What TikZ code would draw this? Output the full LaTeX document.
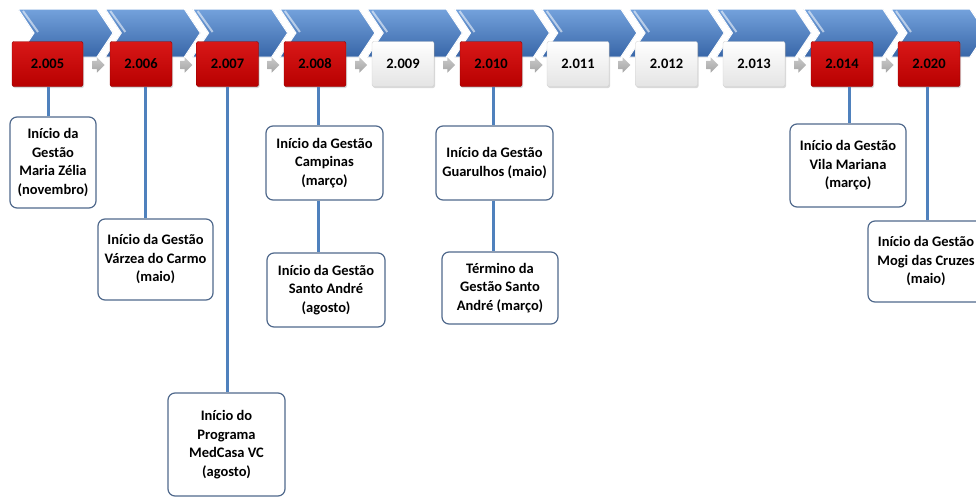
\documentclass[tikz,border=0pt]{standalone}
\usepackage{fontspec}
\setmainfont{Carlito}
\usetikzlibrary{shapes.arrows,shadows,calc}
\definecolor{ChevronTop}{HTML}{74A2DC}
\definecolor{ChevronMid}{HTML}{4A7EC2}
\definecolor{ChevronBottom}{HTML}{3866A8}
\definecolor{YearRed}{HTML}{B80000}
\definecolor{YearRedTop}{HTML}{D81818}
\definecolor{YearRedEdge}{HTML}{8C0000}
\definecolor{YearGrey}{HTML}{E4E4E4}
\definecolor{YearGreyEdge}{HTML}{D0D0D0}
\definecolor{StepArrow}{HTML}{A5A5A5}
\definecolor{StemBlue}{HTML}{4F81BD}
\definecolor{NoteEdge}{HTML}{50698C}

\begin{document}
\begin{tikzpicture}[x=1pt,y=-1pt,
    chevron/.style={top color=ChevronTop,middle color=ChevronMid,bottom color=ChevronBottom,draw=white,line width=1pt},
    gloss/.style={white,opacity=.55,line width=2pt},
    yearbox/.style={minimum height=45pt,inner sep=0pt,rounded corners=2pt,text=black,
      font=\fontsize{14.5}{17}\selectfont\bfseries,
      drop shadow={shadow xshift=1pt,shadow yshift=-1.5pt,opacity=.3}},
    redyear/.style={yearbox,top color=YearRedTop,bottom color=YearRed,draw=YearRedEdge},
    greyyear/.style={yearbox,top color=white,bottom color=YearGrey,draw=YearGreyEdge},
    steparrow/.style={single arrow,single arrow head extend=3.5pt,minimum height=12pt,
      inner xsep=0pt,inner ysep=4pt,top color=StepArrow!60,bottom color=StepArrow,draw=none},
    stem/.style={StemBlue,line width=3pt},
    note/.style={draw=NoteEdge,line width=1.2pt,rounded corners=7pt,fill=white,align=center,
      inner sep=0pt,text=black,font=\fontsize{14.5}{18.5}\selectfont\bfseries}]
  \useasboundingbox (0,0) rectangle (976,498);

  % chevrons in the back
  \foreach \k in {0,...,10} {
    \pgfmathsetmacro{\cx}{18+87.3*\k}
    \filldraw[chevron] (\cx,9) -- ++(79,0) -- ++(16,24) -- ++(-16,24) -- ++(-79,0) -- ++(16,-24) -- cycle;
    \draw[gloss] (\cx+5,11) -- (\cx+20,32);
  }

  % years
  \foreach \yr/\lab/\xc/\bw/\kind in {2005/2.005/47.5/71pt/redyear,2006/2.006/141/62pt/redyear,
      2007/2.007/227.5/62pt/redyear,2008/2.008/315/62pt/redyear,2009/2.009/403/62pt/greyyear,
      2010/2.010/491/62pt/redyear,2011/2.011/578/62pt/greyyear,2012/2.012/666.5/62pt/greyyear,
      2013/2.013/754/62pt/greyyear,2014/2.014/842/62pt/redyear,2020/2.020/929/62pt/redyear} {
    \node[\kind,minimum width=\bw] (y\yr) at (\xc,64) {\lab};
  }

  % small arrows between years
  \foreach \a/\b in {2005/2006,2006/2007,2007/2008,2008/2009,2009/2010,2010/2011,
      2011/2012,2012/2013,2013/2014,2014/2020} {
    \node[steparrow] (s\a) at ($(y\a.east)!.5!(y\b.west)+(0,1)$) {};
  }

  % notes
  \node[note,minimum width=86pt,minimum height=91pt] (n2005) at (53,162.5) {Início da\\Gestão\\Maria Zélia\\(novembro)};
  \node[note,minimum width=115pt,minimum height=81pt] (n2006) at (155.5,259.5) {Início da Gestão\\Várzea do Carmo\\(maio)};
  \node[note,minimum width=117pt,minimum height=103pt] (n2007) at (226.5,444.5) {Início do\\Programa\\MedCasa VC\\(agosto)};
  \node[note,minimum width=117pt,minimum height=74pt] (n2008a) at (324.5,163) {Início da Gestão\\Campinas\\(março)};
  \node[note,minimum width=118pt,minimum height=74pt] (n2008b) at (326,290) {Início da Gestão\\Santo André\\(agosto)};
  \node[note,minimum width=117pt,minimum height=74pt] (n2010a) at (494.5,163) {Início da Gestão\\Guarulhos (maio)};
  \node[note,minimum width=116pt,minimum height=72pt] (n2010b) at (500,288) {Término da\\Gestão Santo\\André (março)};
  \node[note,minimum width=116pt,minimum height=83pt] (n2014) at (848,165.5) {Início da Gestão\\Vila Mariana\\(março)};
  \node[note,minimum width=116pt,minimum height=81pt] (n2020) at (926,261.5) {Início da Gestão\\Mogi das Cruzes\\(maio)};

  % stems
  \draw[stem] ($(y2005.south)+(0.5,0)$) -- ($(y2005.south |- n2005.north)+(0.5,0)$);
  \draw[stem] ($(y2006.south)+(4,0)$) -- ($(y2006.south |- n2006.north)+(4,0)$);
  \draw[stem] ($(y2007.south)+(-0.5,0)$) -- ($(y2007.south |- n2007.north)+(-0.5,0)$);
  \draw[stem] ($(y2008.south)+(3,0)$) -- ($(y2008.south |- n2008a.north)+(3,0)$);
  \draw[stem] ($(y2008.south |- n2008a.south)+(3,0)$) -- ($(y2008.south |- n2008b.north)+(3,0)$);
  \draw[stem] ($(y2010.south)+(2,0)$) -- ($(y2010.south |- n2010a.north)+(2,0)$);
  \draw[stem] ($(y2010.south |- n2010a.south)+(2,0)$) -- ($(y2010.south |- n2010b.north)+(2,0)$);
  \draw[stem] ($(y2014.south)+(7,0)$) -- ($(y2014.south |- n2014.north)+(7,0)$);
  \draw[stem] ($(y2020.south)+(-2,0)$) -- ($(y2020.south |- n2020.north)+(-2,0)$);
\end{tikzpicture}
\end{document}
